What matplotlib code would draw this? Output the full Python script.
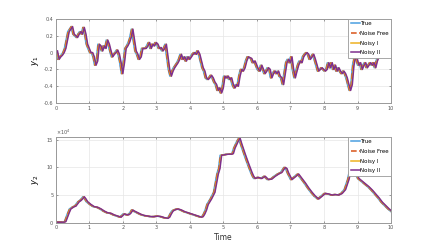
import numpy as np
import matplotlib
matplotlib.use('Agg')
import matplotlib.pyplot as plt
from matplotlib.ticker import FuncFormatter

t1 = np.round(np.arange(0, 10.0001, 0.05), 2)
y1 = [0.02, -0.08, -0.05, -0.03, 0.0, 0.05, 0.15, 0.25, 0.28, 0.31,
      0.22, 0.2, 0.18, 0.22, 0.25, 0.22, 0.3, 0.22, 0.1, 0.05,
      0.0, 0.0, -0.05, -0.15, -0.1, 0.1, 0.08, 0.02, 0.08, 0.05,
      0.15, 0.1, 0.02, -0.05, -0.02, 0.0, 0.03, -0.02, -0.12, -0.25,
      -0.12, 0.05, 0.08, 0.12, 0.18, 0.28, 0.15, 0.02, -0.02, -0.08,
      -0.05, 0.05, 0.05, 0.05, 0.08, 0.12, 0.05, 0.1, 0.08, 0.12,
      0.1, 0.05, 0.06, 0.02, 0.05, 0.1, -0.05, -0.2, -0.28, -0.22,
      -0.18, -0.15, -0.12, -0.08, -0.02, -0.08, -0.05, -0.1, -0.05, -0.08,
      -0.05, -0.02, 0.0, -0.02, 0.02, -0.02, -0.1, -0.18, -0.22, -0.3,
      -0.32, -0.3, -0.27, -0.3, -0.35, -0.38, -0.45, -0.42, -0.48, -0.42,
      -0.28, -0.3, -0.28, -0.32, -0.3, -0.38, -0.42, -0.38, -0.4, -0.28,
      -0.2, -0.22, -0.18, -0.1, -0.05, -0.06, -0.07, -0.12, -0.1, -0.15,
      -0.2, -0.22, -0.15, -0.2, -0.25, -0.22, -0.18, -0.2, -0.3, -0.25,
      -0.22, -0.25, -0.22, -0.28, -0.3, -0.38, -0.25, -0.12, -0.08, -0.12,
      -0.05, -0.2, -0.3, -0.22, -0.15, -0.1, -0.12, -0.05, -0.02, 0.0,
      -0.02, -0.08, -0.05, -0.02, -0.08, -0.15, -0.22, -0.2, -0.18, -0.2,
      -0.22, -0.2, -0.12, -0.18, -0.12, -0.2, -0.15, -0.22, -0.18, -0.22,
      -0.25, -0.22, -0.25, -0.3, -0.38, -0.45, -0.38, -0.15, -0.05, -0.08,
      -0.15, -0.12, -0.2, -0.15, -0.12, -0.18, -0.15, -0.12, -0.15, -0.12,
      -0.18, -0.1, -0.05, 0.0, -0.03, 0.02, 0.0, 0.03, -0.02, 0.0,
      0.02]

# bottom panel: y2 in units of 1e4
t2 = [0, 0.2, 0.25, 0.3, 0.35, 0.4, 0.5, 0.55, 0.6, 0.65, 0.7, 0.75, 0.8, 0.85, 0.9,
      1.0, 1.1, 1.2, 1.3, 1.4, 1.5, 1.6, 1.7, 1.8, 1.9, 1.95, 2.0, 2.05, 2.1, 2.15,
      2.2, 2.25, 2.3, 2.4, 2.5, 2.6, 2.7, 2.8, 2.9, 3.0, 3.1, 3.2, 3.3, 3.35, 3.4,
      3.45, 3.5, 3.6, 3.7, 3.8, 3.9, 4.0, 4.1, 4.2, 4.3, 4.35, 4.4, 4.45, 4.5, 4.6,
      4.7, 4.8, 4.85, 4.9, 5.0, 5.1, 5.2, 5.25, 5.3, 5.4, 5.45, 5.5, 5.6, 5.7, 5.8,
      5.85, 5.9, 6.0, 6.1, 6.2, 6.3, 6.4, 6.5, 6.6, 6.7, 6.8, 6.85, 6.9, 7.0, 7.1,
      7.2, 7.3, 7.4, 7.5, 7.6, 7.7, 7.8, 7.9, 8.0, 8.1, 8.2, 8.3, 8.4, 8.5, 8.6,
      8.7, 8.8, 8.85, 8.9, 9.0, 9.1, 9.2, 9.3, 9.4, 9.5, 9.6, 9.7, 9.8, 9.9, 10.0]
y2 = [0.1, 0.1, 0.2, 1.0, 1.8, 2.5, 2.9, 3.0, 3.4, 3.8, 4.0, 4.3, 4.7, 4.3, 3.8,
      3.3, 2.9, 2.8, 2.5, 2.1, 1.8, 1.7, 1.4, 1.2, 1.0, 1.3, 1.6, 1.5, 1.4, 1.5,
      1.8, 2.3, 2.1, 1.8, 1.5, 1.3, 1.2, 1.1, 1.1, 1.2, 1.1, 0.9, 0.8, 1.0, 1.6,
      2.1, 2.3, 2.5, 2.3, 2.0, 1.8, 1.6, 1.4, 1.2, 1.0, 1.1, 1.6, 2.3, 3.3, 4.3,
      5.5, 8.8, 9.8, 12.2, 12.3, 12.4, 12.4, 12.5, 13.5, 14.8, 15.3, 14.3, 12.5, 10.8, 9.2,
      8.5, 8.0, 8.2, 8.0, 8.4, 7.8, 7.9, 8.4, 8.8, 9.1, 10.0, 9.8, 9.0, 7.8, 8.3,
      8.8, 8.0, 7.2, 6.3, 5.5, 4.8, 4.3, 4.8, 5.3, 5.2, 5.0, 5.1, 5.0, 5.3, 6.0,
      7.8, 10.5, 10.3, 9.3, 8.0, 7.5, 7.0, 6.5, 5.9, 5.2, 4.5, 3.7, 3.1, 2.5, 2.0]
y2 = np.array(y2) * 1e4

names = ['True', 'Noise Free', 'Noisy I', 'Noisy II']
colors = ['#4A9FE0', '#D95319', '#EDB120', '#7E2F8E']
styles = ['-', '--', '-', '-']
lag = [0.0, 0.012, 0.03, 0.045]

fig = plt.figure(figsize=(4.32, 2.49), dpi=100)
ax1 = fig.add_axes([0.1296, 0.5863, 0.7755, 0.3373])
ax2 = fig.add_axes([0.1296, 0.1056, 0.7755, 0.344])

for ax, t, y in [(ax1, t1, y1), (ax2, t2, y2)]:
    for n, c, s, d in zip(names, colors, styles, lag):
        ax.plot(np.array(t) + d, y, color=c, ls=s, lw=1.1, label=n)
    ax.set_xlim(0, 10)
    ax.set_xticks(range(11))
    ax.grid(True, color='#e6e6e6', lw=0.5)
    ax.tick_params(labelsize=3.5, direction='in', length=1.5, width=0.4,
                   colors='#555555', pad=2, top=True, right=True)
    for sp in ax.spines.values():
        sp.set_color('#999999')
        sp.set_linewidth(0.7)
    leg = ax.legend(loc='upper right', fontsize=4, handlelength=1.6,
                    borderpad=0.4, labelspacing=0.85, handletextpad=0.1,
                    borderaxespad=0, fancybox=False, framealpha=1,
                    edgecolor='#999999')
    leg.get_frame().set_linewidth(0.6)

ax1.set_ylim(-0.6, 0.4)
ax1.set_yticks([-0.6, -0.4, -0.2, 0, 0.2, 0.4])
ax1.set_yticklabels(['-0.6', '-0.4', '-0.2', '0', '0.2', '0.4'])
ax1.set_ylabel(r'$y_1$', fontsize=6, labelpad=2)

ax2.set_ylim(0, 15.5e4)
ax2.set_yticks([0, 5e4, 10e4, 15e4])
ax2.yaxis.set_major_formatter(FuncFormatter(lambda v, p: f'{v / 1e4:g}'))
ax2.text(0, 1.005, r'$\times10^4$', transform=ax2.transAxes, fontsize=3.5,
         color='#555555', va='bottom', ha='left')
ax2.set_ylabel(r'$y_2$', fontsize=6, labelpad=4)
ax2.set_xlabel('Time', fontsize=5.5, labelpad=2, color='#333333')

fig.savefig('out.png', dpi=100)
